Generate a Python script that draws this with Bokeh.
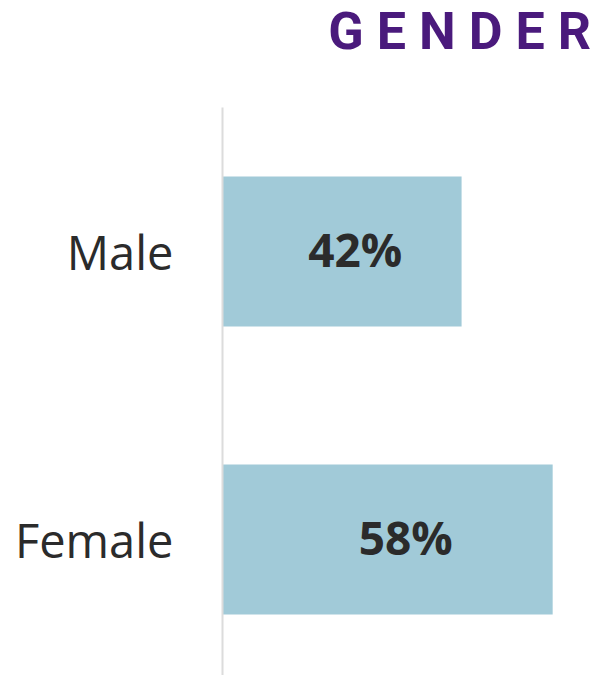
from bokeh.plotting import figure
from bokeh.models import ColumnDataSource, Range1d, Div, FixedTicker
from bokeh.layouts import column
from bokeh.embed import file_html
from bokeh.resources import INLINE
from bokeh.core.properties import value

# Data
title_text = "GENDER"
categories = ["Male", "Female"]
percent_values = [42, 58]
value_labels = [f"{v}%" for v in percent_values]

BAR_COLOR = "#a1cad8"
TEXT_COLOR = "#2b2b2b"
TITLE_COLOR = "#4a1a7c"
BG = "#ffffff"

n = len(categories)
y_pos = [n - 1 - i for i in range(n)]  # first category at top
label_x = [v * 0.555 for v in percent_values]

src = ColumnDataSource(dict(cat=categories, val=percent_values, y=y_pos,
                            lab=value_labels, lx=label_x))

title_html = (f'{title_text[:-1]}<span style="letter-spacing:0">'
              f'{title_text[-1]}</span>')
title_div = Div(
    text=title_html, width=596, height=64, margin=0,
    styles={"font-family": "Roboto", "font-weight": "700", "font-size": "52px",
            "letter-spacing": "13px", "color": TITLE_COLOR, "text-align": "right",
            "line-height": "64px", "width": "596px", "white-space": "nowrap",
            "padding-right": "5px", "box-sizing": "border-box"},
)

p = figure(width=596, height=611, output_backend="svg", toolbar_location=None,
           x_range=Range1d(0, 65.7), y_range=Range1d(-0.472, 1.5),
           min_border_left=222, min_border_right=0, min_border_top=43,
           min_border_bottom=0, margin=0)
p.background_fill_color = BG
p.border_fill_color = BG
p.outline_line_color = None
p.grid.visible = False
p.xaxis.visible = False

p.hbar(y="y", left=0, right="val", height=0.521, source=src,
       fill_color=BAR_COLOR, line_color=None)
p.text(x="lx", y="y", text="lab", source=src, text_align="center",
       text_baseline="middle", y_offset=-3, text_font=value("Open Sans"),
       text_font_style="bold", text_font_size="46px", text_color=TEXT_COLOR)

yax = p.yaxis[0]
yax.ticker = FixedTicker(ticks=y_pos)
yax.major_label_overrides = {yv: c for yv, c in zip(y_pos, categories)}
yax.major_label_text_font = "Open Sans"
yax.major_label_text_font_size = "47px"
yax.major_label_text_color = TEXT_COLOR
yax.major_label_standoff = 43
yax.major_tick_line_color = None
yax.minor_tick_line_color = None
yax.axis_line_color = "#dcdcdc"
yax.axis_line_width = 2

layout = column(title_div, p, spacing=0, margin=0)
open("out.html", "w").write(file_html(layout, INLINE))
